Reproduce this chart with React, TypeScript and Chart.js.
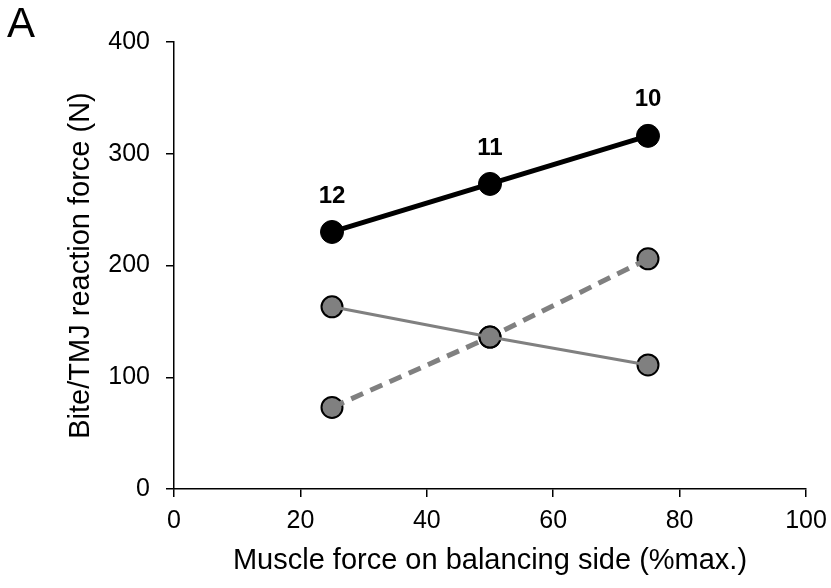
import React, { useEffect, useRef } from "react";
import { Chart, registerables } from "chart.js";

Chart.register(...registerables);

const xValues = [25, 50, 75];
const blackSeries = [230, 273, 316];
const graySolidSeries = [163, 136, 111];
const grayDashedSeries = [73, 136, 206];
const blackLabels = ["12", "11", "10"];
const panelLabel = "A";
const xTitle = "Muscle force on balancing side (%max.)";
const yTitle = "Bite/TMJ reaction force (N)";

const FONT = "'Liberation Sans', Arial, Helvetica, sans-serif";
const GRAY = "#808080";

const toPoints = (ys: number[]) => xValues.map((x, i) => ({ x, y: ys[i] }));

const labelPlugin = {
  id: "labelPlugin",
  afterDatasetsDraw(chart: any) {
    const ctx = chart.ctx;
    const xs = chart.scales.x;
    const ys = chart.scales.y;
    ctx.save();
    ctx.fillStyle = "#000";
    ctx.font = `bold 24px ${FONT}`;
    ctx.textAlign = "center";
    ctx.textBaseline = "middle";
    xValues.forEach((x, i) => {
      ctx.fillText(blackLabels[i], xs.getPixelForValue(x), ys.getPixelForValue(blackSeries[i]) - 36);
    });
    ctx.font = `42px ${FONT}`;
    ctx.textAlign = "left";
    ctx.textBaseline = "alphabetic";
    ctx.fillText(panelLabel, 7, 37);
    ctx.restore();
  },
};

export default function App() {
  const ref = useRef<HTMLCanvasElement | null>(null);
  useEffect(() => {
    document.body.style.margin = "0";
    if (!ref.current) return;
    const chart = new Chart(ref.current, {
      type: "scatter",
      data: {
        datasets: [
          {
            data: toPoints(blackSeries),
            showLine: true,
            borderColor: "#000",
            borderWidth: 5,
            pointRadius: 0,
            order: 0,
          },
          {
            data: toPoints(graySolidSeries),
            showLine: true,
            borderColor: GRAY,
            borderWidth: 3,
            pointRadius: 0,
            order: 0,
          },
          {
            data: toPoints(grayDashedSeries),
            showLine: true,
            borderColor: GRAY,
            borderWidth: 5,
            borderDash: [13, 8],
            pointRadius: 0,
            order: 0,
          },
          {
            data: toPoints(blackSeries),
            showLine: false,
            pointRadius: 11.5,
            pointBackgroundColor: "#000",
            pointBorderColor: "#000",
            pointBorderWidth: 1,
            order: 1,
          },
          {
            data: toPoints(graySolidSeries),
            showLine: false,
            pointRadius: 10.5,
            pointBackgroundColor: GRAY,
            pointBorderColor: "#000",
            pointBorderWidth: 2,
            order: 1,
          },
          {
            data: toPoints(grayDashedSeries),
            showLine: false,
            pointRadius: 10.5,
            pointBackgroundColor: GRAY,
            pointBorderColor: "#000",
            pointBorderWidth: 2,
            order: 1,
          },
        ],
      },
      options: {
        responsive: false,
        animation: false,
        layout: { padding: { top: 42, right: 25, left: 0, bottom: 0 } },
        plugins: { legend: { display: false }, tooltip: { enabled: false } },
        scales: {
          x: {
            type: "linear",
            min: 0,
            max: 100,
            afterFit: (s: any) => { s.height = 99; s.paddingRight = 0; s.paddingLeft = 0; },
            ticks: { stepSize: 20, color: "#000", font: { family: FONT, size: 25 }, padding: 9, maxRotation: 0 },
            grid: { drawOnChartArea: false, drawTicks: true, tickLength: 8, color: "#000", lineWidth: 1.5 },
            border: { display: true, color: "#000", width: 1.5 },
            title: { display: true, text: xTitle, color: "#000", font: { family: FONT, size: 29 }, padding: { top: 0, bottom: 10 } },
          },
          y: {
            type: "linear",
            min: 0,
            max: 400,
            afterFit: (s: any) => { s.width = 174; s.paddingTop = 0; s.paddingBottom = 0; },
            ticks: { stepSize: 100, color: "#000", font: { family: FONT, size: 25 }, padding: 16 },
            grid: { drawOnChartArea: false, drawTicks: true, tickLength: 8, color: "#000", lineWidth: 1.5 },
            border: { display: true, color: "#000", width: 1.5 },
            title: { display: true, text: yTitle, color: "#000", font: { family: FONT, size: 29 }, padding: { top: 64, bottom: 0 } },
          },
        },
      },
      plugins: [labelPlugin],
    } as any);
    return () => chart.destroy();
  }, []);
  return (
    <div style={{ width: 831, height: 588 }}>
      <canvas ref={ref} width={831} height={588} />
    </div>
  );
}
